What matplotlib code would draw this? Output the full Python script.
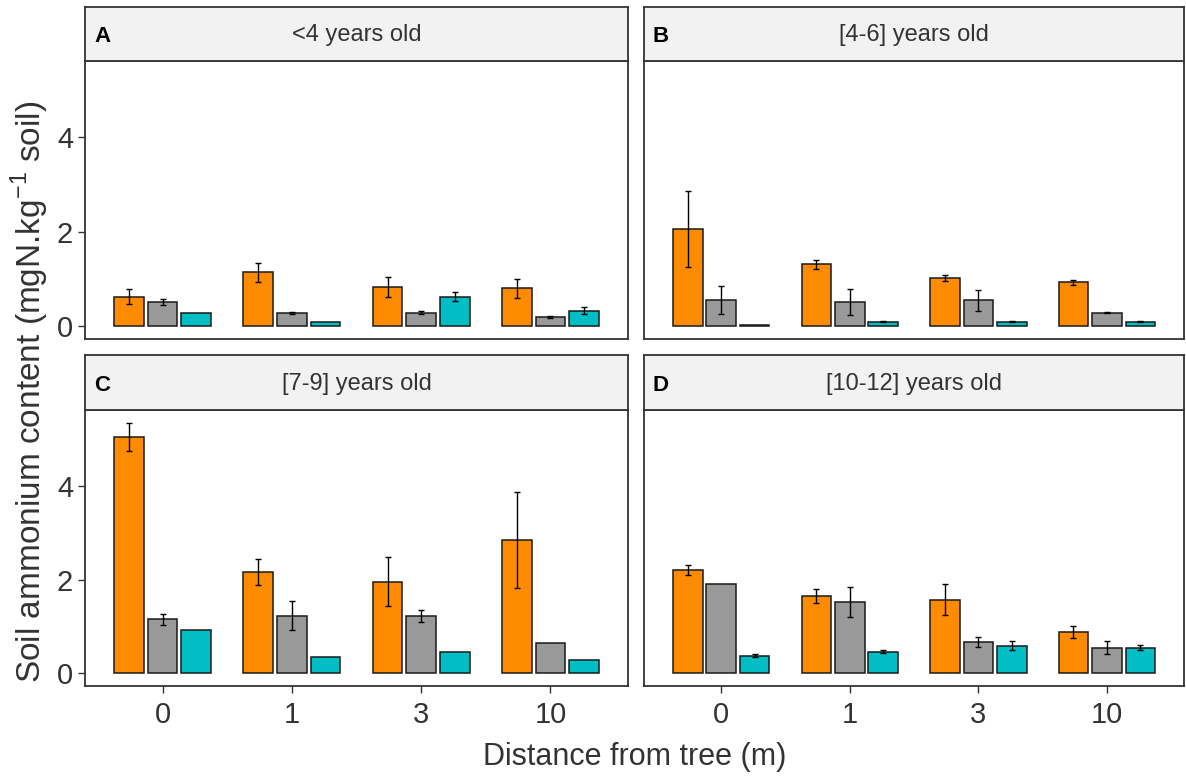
import numpy as np
import matplotlib
matplotlib.use('Agg')
import matplotlib.pyplot as plt

plt.rcParams['font.family'] = ['Liberation Sans', 'DejaVu Sans']
plt.rcParams['mathtext.fontset'] = 'custom'
plt.rcParams['mathtext.rm'] = 'Liberation Sans'

# 数据：四个树龄组，每组三个处理（橙/灰/青），x 为距树距离
distances = ['0', '1', '3', '10']
panel_tags = ['A', 'B', 'C', 'D']
panel_titles = ['<4 years old', '[4-6] years old', '[7-9] years old', '[10-12] years old']

A_orange = [0.63, 1.14, 0.84, 0.80]
A_orange_se = [0.15, 0.21, 0.21, 0.21]
A_gray = [0.51, 0.29, 0.29, 0.20]
A_gray_se = [0.07, 0.02, 0.04, 0.02]
A_cyan = [0.29, 0.10, 0.63, 0.33]
A_cyan_se = [0, 0, 0.09, 0.08]

B_orange = [2.06, 1.31, 1.02, 0.93]
B_orange_se = [0.80, 0.09, 0.06, 0.06]
B_gray = [0.55, 0.51, 0.55, 0.29]
B_gray_se = [0.30, 0.27, 0.22, 0.01]
B_cyan = [0.02, 0.10, 0.10, 0.10]
B_cyan_se = [0, 0.02, 0.02, 0.02]

C_orange = [5.05, 2.17, 1.96, 2.85]
C_orange_se = [0.30, 0.28, 0.52, 1.02]
C_gray = [1.15, 1.23, 1.23, 0.64]
C_gray_se = [0.12, 0.31, 0.13, 0]
C_cyan = [0.93, 0.34, 0.46, 0.28]
C_cyan_se = [0, 0, 0, 0]

D_orange = [2.21, 1.65, 1.57, 0.88]
D_orange_se = [0.11, 0.15, 0.33, 0.13]
D_gray = [1.91, 1.52, 0.67, 0.55]
D_gray_se = [0, 0.32, 0.10, 0.14]
D_cyan = [0.38, 0.46, 0.59, 0.55]
D_cyan_se = [0.04, 0.03, 0.09, 0.06]

series_colors = ['#FF8C00', '#999999', '#00BEC4']

panel_data = [
    [(A_orange, A_orange_se), (A_gray, A_gray_se), (A_cyan, A_cyan_se)],
    [(B_orange, B_orange_se), (B_gray, B_gray_se), (B_cyan, B_cyan_se)],
    [(C_orange, C_orange_se), (C_gray, C_gray_se), (C_cyan, C_cyan_se)],
    [(D_orange, D_orange_se), (D_gray, D_gray_se), (D_cyan, D_cyan_se)],
]

W, H = 1186, 778
fig = plt.figure(figsize=(W / 100, H / 100), dpi=100)

# 面板位置（像素）：左, 右, 绘图区上, 绘图区下, 标题条上
cols = [(85, 628), (644, 1184)]
rows = [(61, 339, 7), (410, 686, 355)]

x = np.arange(1, len(distances) + 1)
step = 0.26
bar_w = 0.23
frame_col = '#333333'

for i in range(4):
    r, c = divmod(i, 2)
    left, right = cols[c]
    top, bottom, stop = rows[r]
    ax = fig.add_axes([left / W, 1 - bottom / H, (right - left) / W, (bottom - top) / H])
    for k, (vals, se) in enumerate(panel_data[i]):
        pos = x + (k - 1) * step
        ax.bar(pos, vals, width=bar_w, color=series_colors[k], edgecolor='#1a1a1a',
               linewidth=1.1, zorder=2)
        se = np.array(se, dtype=float)
        m = se > 0
        ax.errorbar(pos[m], np.array(vals)[m], yerr=se[m], fmt='none', ecolor='black',
                    elinewidth=1.0, capsize=2, capthick=1.0, zorder=3)
    ax.set_xlim(0.4, 4.6)
    ax.set_ylim(-0.27, 5.62)
    ax.set_yticks([0, 2, 4])
    ax.set_xticks(x)
    ax.set_xticklabels(distances)
    for s in ax.spines.values():
        s.set_color(frame_col)
        s.set_linewidth(1.3)
    ax.tick_params(colors=frame_col, length=5, width=1.0, labelsize=21, labelcolor='#333333')
    ax.tick_params(axis='x', pad=6)
    if c == 1:
        ax.tick_params(axis='y', left=False, labelleft=False)
    if r == 0:
        ax.tick_params(axis='x', bottom=False, labelbottom=False)

    # 标题条
    sax = fig.add_axes([left / W, 1 - top / H, (right - left) / W, (top - stop) / H])
    sax.set_facecolor('#F2F2F2')
    sax.set_xticks([])
    sax.set_yticks([])
    for s in sax.spines.values():
        s.set_color(frame_col)
        s.set_linewidth(1.3)
    sax.text(0.5, 0.48, panel_titles[i], ha='center', va='center', fontsize=17,
             color='#333333', transform=sax.transAxes)
    sax.text(9 / (right - left), 0.45, panel_tags[i], ha='left', va='center', fontsize=16,
             fontweight='bold', color='black', transform=sax.transAxes)

fig.text(30 / W, 1 - 392 / H, 'Soil ammonium content (mgN.kg$^{\\mathrm{-1}}$ soil)', rotation=90,
         ha='center', va='center', fontsize=24, color='#333333')
fig.text(635 / W, 1 - 757 / H, 'Distance from tree (m)', ha='center', va='center',
         fontsize=22, color='#333333')

fig.savefig('out.png', dpi=100)
